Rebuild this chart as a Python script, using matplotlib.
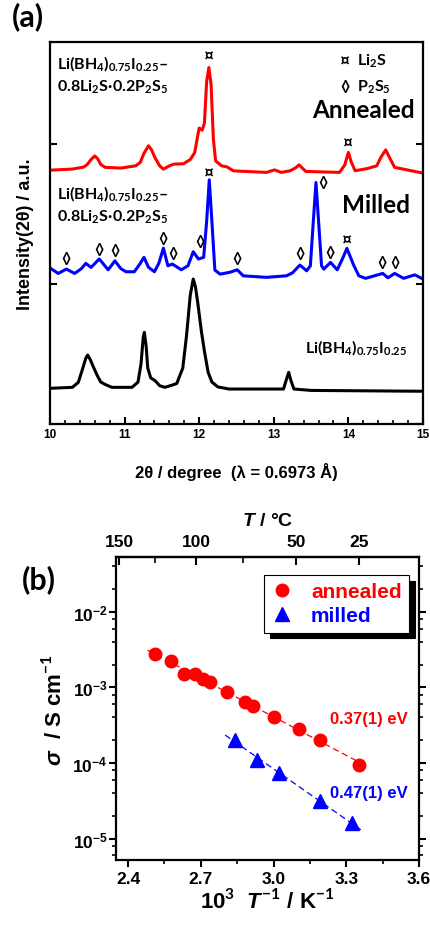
import numpy as np
import matplotlib
matplotlib.use('Agg')
import matplotlib.pyplot as plt
from matplotlib.ticker import MultipleLocator, FixedLocator, NullFormatter, LogLocator

plt.rcParams['font.family'] = ['Liberation Sans', 'DejaVu Sans']
plt.rcParams['font.weight'] = 'bold'
plt.rcParams['axes.labelweight'] = 'bold'
plt.rcParams['mathtext.fontset'] = 'custom'
plt.rcParams['mathtext.rm'] = 'Lato:bold'
plt.rcParams['mathtext.bf'] = 'Lato:bold'
plt.rcParams['mathtext.it'] = 'Liberation Sans:bold:italic'

# ---- (a) XRD patterns ----
tt_annealed = [10.00, 10.30, 10.45, 10.50, 10.55, 10.60, 10.64, 10.68, 10.74, 10.95, 11.15, 11.21,
               11.26, 11.32, 11.36, 11.41, 11.47, 11.52, 11.60, 11.66, 11.79, 11.88, 11.94, 11.98,
               12.00, 12.04, 12.07, 12.10, 12.13, 12.16, 12.19, 12.22, 12.30, 12.37, 12.46, 12.90,
               13.01, 13.10, 13.22, 13.29, 13.34, 13.38, 13.43, 13.88, 13.95, 14.00, 14.04, 14.09,
               14.25, 14.38, 14.44, 14.50, 14.55, 14.62, 15.00]
i_annealed = [1.814, 1.822, 1.836, 1.855, 1.890, 1.916, 1.895, 1.855, 1.834, 1.829, 1.845, 1.870,
              1.935, 1.988, 1.960, 1.900, 1.845, 1.821, 1.845, 1.857, 1.860, 1.890, 1.940, 2.060,
              2.115, 2.100, 2.150, 2.450, 2.548, 2.420, 2.036, 1.880, 1.845, 1.838, 1.809, 1.798,
              1.816, 1.798, 1.810, 1.830, 1.852, 1.830, 1.805, 1.798, 1.850, 1.941, 1.870, 1.810,
              1.825, 1.845, 1.910, 1.959, 1.905, 1.834, 1.793]

tt_milled = [10.00, 10.11, 10.22, 10.33, 10.42, 10.48, 10.55, 10.66, 10.78, 10.87, 10.95, 11.02,
             11.13, 11.20, 11.26, 11.32, 11.40, 11.46, 11.52, 11.58, 11.64, 11.76, 11.85, 11.92,
             11.99, 12.06, 12.10, 12.135, 12.17, 12.21, 12.28, 12.41, 12.51, 12.59, 12.90, 13.17,
             13.25, 13.35, 13.44, 13.49, 13.53, 13.565, 13.60, 13.64, 13.67, 13.76, 13.85, 13.92,
             13.98, 14.07, 14.14, 14.23, 14.46, 14.53, 14.62, 14.74, 14.89, 15.00]
i_milled = [1.115, 1.076, 1.107, 1.076, 1.110, 1.148, 1.119, 1.179, 1.102, 1.166, 1.110, 1.088,
            1.088, 1.140, 1.191, 1.120, 1.088, 1.150, 1.257, 1.131, 1.143, 1.102, 1.131, 1.231,
            1.179, 1.191, 1.450, 1.745, 1.450, 1.100, 1.071, 1.084, 1.102, 1.059, 1.048, 1.059,
            1.080, 1.136, 1.095, 1.130, 1.450, 1.726, 1.450, 1.131, 1.107, 1.155, 1.102, 1.180,
            1.255, 1.136, 1.059, 1.041, 1.076, 1.045, 1.076, 1.041, 1.066, 1.036]

tt_libh4 = [10.00, 10.30, 10.38, 10.44, 10.48, 10.505, 10.54, 10.58, 10.63, 10.68, 10.75, 10.83,
            11.10, 11.18, 11.22, 11.25, 11.265, 11.29, 11.31, 11.35, 11.41, 11.47, 11.54, 11.65,
            11.70, 11.78, 11.83, 11.88, 11.92, 11.95, 11.98, 12.03, 12.07, 12.12, 12.17, 12.25,
            12.40, 13.13, 13.17, 13.20, 13.23, 13.27, 13.50, 15.00]
i_libh4 = [0.255, 0.262, 0.298, 0.400, 0.470, 0.493, 0.460, 0.410, 0.350, 0.300, 0.280, 0.262,
           0.262, 0.300, 0.430, 0.620, 0.655, 0.550, 0.400, 0.330, 0.309, 0.274, 0.262, 0.280,
           0.290, 0.400, 0.631, 0.920, 1.036, 0.980, 0.869, 0.660, 0.520, 0.369, 0.300, 0.265,
           0.250, 0.250, 0.320, 0.369, 0.310, 0.250, 0.240, 0.234]

# phase markers (peak position, marker height)
li2s_tt = [12.13, 14.00, 12.13, 13.98]
li2s_y = [2.63, 2.01, 1.80, 1.32]
p2s5_tt = [10.22, 10.66, 10.87, 11.52, 11.65, 12.01, 12.51, 13.35, 13.66, 13.75, 14.45, 14.62]
p2s5_y = [1.184, 1.25, 1.245, 1.326, 1.221, 1.309, 1.184, 1.221, 1.726, 1.226, 1.159, 1.155]

# ---- (b) Arrhenius plot ----
invT_annealed = [2.51, 2.576, 2.63, 2.675, 2.708, 2.739, 2.808, 2.881, 2.917, 3.00, 3.105, 3.193, 3.352]
sigma_annealed = [2.8e-3, 2.2e-3, 1.5e-3, 1.5e-3, 1.27e-3, 1.16e-3, 8.65e-4, 6.45e-4, 5.7e-4,
                  4.07e-4, 2.83e-4, 2.04e-4, 9.4e-5]
invT_milled = [2.842, 2.932, 3.024, 3.193, 3.323]
sigma_milled = [2.0e-4, 1.1e-4, 7.4e-5, 3.1e-5, 1.6e-5]
fit_range_annealed = [2.48, 3.36]
fit_range_milled = [2.80, 3.36]
top_ticks_c = [150, 100, 50, 25]
top_minor_c = [125, 75]

fig = plt.figure(figsize=(4.31, 9.28), dpi=100)
label_font = ['Lato', 'DejaVu Sans']

# ===================== panel (a) =====================
ax = fig.add_axes([50 / 431, 1 - 425 / 928, 373 / 431, 382 / 928])
ax.plot(tt_annealed, i_annealed, color='#ff0000', lw=2.2, solid_joinstyle='round')
ax.plot(tt_milled, i_milled, color='#0000ff', lw=2.2, solid_joinstyle='round')
ax.plot(tt_libh4, i_libh4, color='black', lw=2.2, solid_joinstyle='round')
ax.set_xlim(10, 15)
ax.set_ylim(0, 2.73)
ax.xaxis.set_major_locator(MultipleLocator(1))
ax.xaxis.set_minor_locator(MultipleLocator(0.2))
ax.yaxis.set_major_locator(FixedLocator([0, 1, 2]))
ax.yaxis.set_major_formatter(NullFormatter())
ax.tick_params(axis='x', which='both', direction='in', top=False, labelsize=8.5, pad=3)
ax.tick_params(axis='x', which='major', length=5, width=1.5)
ax.tick_params(axis='x', which='minor', length=3, width=1.2)
ax.tick_params(axis='y', direction='in', left=True, right=True, length=5, width=1.5)
for s in ax.spines.values():
    s.set_linewidth(1.6)
ax.set_xlabel('2θ / degree  (λ = 0.6973 Å)', fontsize=12, labelpad=16)
ax.set_ylabel('Intensity(2θ) / a.u.', fontsize=13, labelpad=8)

for x, y in zip(li2s_tt, li2s_y):
    ax.text(x, y, '¤', ha='center', va='center', fontsize=12.5, family=label_font)
for x, y in zip(p2s5_tt, p2s5_y):
    ax.text(x, y, '◊', ha='center', va='center', fontsize=11.5, family=label_font)

ax.text(13.95, 2.60, '¤', ha='center', va='center', fontsize=12.5, family=label_font)
ax.text(14.11, 2.60, 'Li$_2$S', ha='left', va='center', fontsize=11.5, family=label_font)
ax.text(13.95, 2.414, '◊', ha='center', va='center', fontsize=11.5, family=label_font)
ax.text(14.11, 2.414, 'P$_2$S$_5$', ha='left', va='center', fontsize=11.5, family=label_font)
ax.text(14.89, 2.25, 'Annealed', ha='right', va='center', fontsize=17.5, family=label_font)
ax.text(14.83, 1.571, 'Milled', ha='right', va='center', fontsize=17.5, family=label_font)

comp = 'Li(BH$_4$)$_{0.75}$I$_{0.25}$–\n0.8Li$_2$S·0.2P$_2$S$_5$'
ax.text(10.09, 2.50, comp, ha='left', va='center', fontsize=11.5, family=label_font, linespacing=1.3)
ax.text(10.09, 1.57, comp, ha='left', va='center', fontsize=11.5, family=label_font, linespacing=1.3)
ax.text(13.42, 0.55, 'Li(BH$_4$)$_{0.75}$I$_{0.25}$', ha='left', va='center', fontsize=11.5,
        family=label_font)

fig.text(12 / 431, 1 - 17 / 928, '(a)', ha='left', va='center', fontsize=22, family=label_font)

# ===================== panel (b) =====================
bx = fig.add_axes([116 / 431, 1 - 861 / 928, 303 / 431, 303 / 928])
bx.set_yscale('log')
bx.plot(invT_annealed, sigma_annealed, 'o', color='#ff0000', ms=9, label='annealed', zorder=3)
bx.plot(invT_milled, sigma_milled, '^', color='#0000ff', ms=10, label='milled', zorder=3)

p = np.polyfit(invT_annealed, np.log10(sigma_annealed), 1)
xf = np.array(fit_range_annealed)
bx.plot(xf, 10 ** np.polyval(p, xf), '--', color='#ff0000', lw=0.9, dashes=(5, 3))
p = np.polyfit(invT_milled, np.log10(sigma_milled), 1)
xf = np.array(fit_range_milled)
bx.plot(xf, 10 ** np.polyval(p, xf), '--', color='#0000ff', lw=0.9, dashes=(5, 3))

bx.set_xlim(2.35, 3.6)
bx.set_ylim(5.2e-6, 0.053)
bx.xaxis.set_major_locator(FixedLocator([2.4, 2.7, 3.0, 3.3, 3.6]))
bx.xaxis.set_major_formatter(matplotlib.ticker.FormatStrFormatter('%.1f'))
bx.xaxis.set_minor_locator(MultipleLocator(0.15))
bx.yaxis.set_minor_locator(LogLocator(base=10, subs=(2, 4, 6, 8)))
bx.yaxis.set_minor_formatter(NullFormatter())
bx.tick_params(axis='both', which='major', direction='out', length=5, width=1.5, labelsize=12.5)
bx.tick_params(axis='both', which='minor', direction='out', length=3, width=1.2)
bx.tick_params(axis='y', which='both', right=True)
bx.tick_params(axis='x', pad=3)
bx.tick_params(axis='y', pad=1)
for s in bx.spines.values():
    s.set_linewidth(1.6)

bx.text(3.555, 3.9e-4, '0.37(1) eV', color='#ff0000', ha='right', va='center', fontsize=12)
bx.text(3.555, 4.1e-5, '0.47(1) eV', color='#0000ff', ha='right', va='center', fontsize=12)

bx.set_xlabel('10$^3$  $T^{-1}$ / K$^{-1}$', fontsize=16, labelpad=2)
bx.set_ylabel('$\\sigma$  / S cm$^{-1}$', fontsize=16, labelpad=4)


def inv_to_c(x):
    x = np.asarray(x, dtype=float)
    with np.errstate(divide='ignore', invalid='ignore'):
        return 1000.0 / x - 273.15


def c_to_inv(t):
    t = np.asarray(t, dtype=float)
    with np.errstate(divide='ignore', invalid='ignore'):
        return 1000.0 / (t + 273.15)


top = bx.secondary_xaxis('top', functions=(inv_to_c, c_to_inv))
top.set_xticks(top_ticks_c)
top.set_xticks(top_minor_c, minor=True)
top.xaxis.set_minor_formatter(NullFormatter())
top.tick_params(which='major', direction='in', length=6, width=1.5, labelsize=12.5, pad=6)
top.tick_params(which='minor', direction='in', length=4, width=1.2)
top.spines['top'].set_linewidth(1.6)
top.set_xlabel('$T$ / °C', fontsize=14, labelpad=6)

leg = bx.legend(loc='upper right', bbox_to_anchor=(1 - 10 / 303, 1 - 18 / 303), borderaxespad=0,
                fontsize=15, frameon=True, fancybox=False, edgecolor='black', framealpha=1,
                shadow={'color': 'black', 'alpha': 1, 'ox': 4, 'oy': -4},
                labelcolor='markerfacecolor', handlelength=1.0, handletextpad=0.9,
                labelspacing=0.25, borderpad=0.35)
leg.get_frame().set_linewidth(0.8)

fig.text(22 / 431, 1 - 580 / 928, '(b)', ha='left', va='center', fontsize=22, family=label_font)

fig.savefig('out.png', dpi=100)
